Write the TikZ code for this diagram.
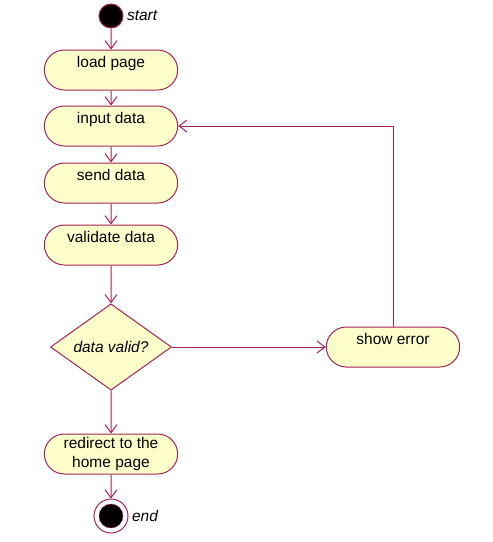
\documentclass[tikz,border=0pt]{standalone}
\usepackage{fontspec}
\setmainfont{Liberation Sans}
\usetikzlibrary{shapes.geometric,shapes.misc,arrows.meta}
\definecolor{umlred}{RGB}{165,35,85}
\definecolor{umlfill}{RGB}{255,255,204}

\begin{document}
\begin{tikzpicture}[x=1pt, y=-1pt, font=\fontsize{15.5}{18.6}\selectfont,
  activity/.style={rounded rectangle, draw=umlred, fill=umlfill, line width=1pt,
    minimum width=140pt, minimum height=40pt, inner ysep=0pt,
    text height=11pt, text depth=17pt},
  decision/.style={diamond, draw=umlred, fill=umlfill, line width=1pt,
    minimum width=121pt, minimum height=83pt, inner sep=0pt},
  flow/.style={draw=umlred, line width=1pt, -{Straight Barb[length=8pt,width=12pt]}}]
\useasboundingbox (0,0) rectangle (493,542);
\node (start) [circle, fill=black, draw=umlred, line width=1pt, minimum size=24pt, inner sep=0pt,
  label={[label distance=0pt]right:\textit{start}}] at (111,16) {};
\node (load) [activity] at (111,70) {load page};
\node (input) [activity] at (111,126) {input data};
\node (send) [activity] at (111,183) {send data};
\node (validate) [activity] at (111,245) {validate data};
\node (valid) [decision] at (111,347) {\textit{data valid?}};
\node (error) [activity] at (393,347) {show error};
\node (redirect) [activity, text height=, text depth=, align=center] at (111,454) {redirect to the\\home page};
\node (end) [circle, draw=umlred, line width=1pt, minimum size=34pt, inner sep=0pt,
  label={[label distance=0pt]right:\textit{end}}] at (111,516) {};
\filldraw [draw=umlred, fill=black] (end) circle [radius=12pt];
\draw [flow] (start) -- (load);
\draw [flow] (load) -- (input);
\draw [flow] (input) -- (send);
\draw [flow] (send) -- (validate);
\draw [flow] (validate) -- (valid);
\draw [flow] (valid) -- (redirect);
\draw [flow] (redirect) -- (end);
\draw [flow] (valid) -- (error);
\draw [flow] (error) |- (input);
\end{tikzpicture}
\end{document}
